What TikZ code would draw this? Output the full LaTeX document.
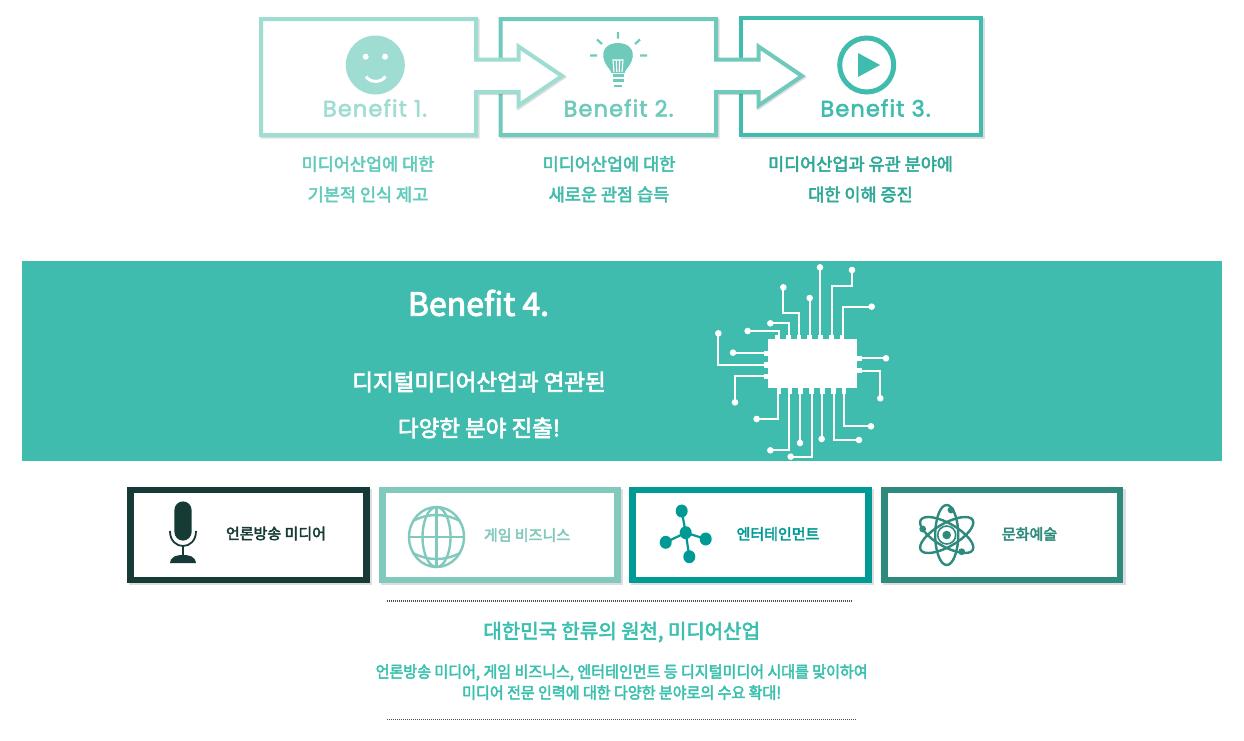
\documentclass[tikz,border=0pt]{standalone}
\usepackage{fontspec}
\setmainfont{Noto Sans CJK KR}
\newfontfamily\krm{Noto Sans CJK KR}[FakeBold=3]
\newfontfamily\krn{Noto Sans CJK KR}[FakeBold=3,FakeStretch=0.94]
\newfontfamily\pop{Poppins}[LetterSpace=5,FakeBold=2.5]
\definecolor{cA}{HTML}{9FDDD3}
\definecolor{cB}{HTML}{6FCABB}
\definecolor{cC}{HTML}{3FBCAD}
\definecolor{tA}{HTML}{62CBBB}
\definecolor{tB}{HTML}{45BCAB}
\definecolor{tC}{HTML}{2FA996}
\definecolor{dA}{HTML}{163A35}
\definecolor{dB}{HTML}{82C9BD}
\definecolor{dC}{HTML}{009A96}
\definecolor{dD}{HTML}{2E8A7C}
\definecolor{hd}{HTML}{3CC0AE}
\tikzset{
  x=1pt,y=-1pt,
  txt/.style={inner sep=0pt,align=center,font=\krm},
  sz/.style={font=\krm\fontsize{#1}{#1}\selectfont},
  szn/.style={font=\krn\fontsize{#1}{#1}\selectfont},
  ben/.style={inner sep=0pt,font=\pop\fontsize{22.5}{22.5}\selectfont},
  shad/.style={draw=black,draw opacity=0.13,line width=#1,line join=miter},
  catbox/.style={draw=#1,line width=6.5pt,fill=white,line join=miter},
  trace/.style={draw=white,line width=1.9pt,line join=miter},
  dotline/.style={draw=black!70,line width=1.2pt,dash pattern=on 1.1pt off 0.9pt},
}
\begin{document}
\begin{tikzpicture}
\useasboundingbox (0,0) rectangle (1244,740);
% Benefit 3 box
\draw[shad=4.5pt] (742.8,19.8) rectangle (982.8,136.8);
\draw[draw=cC,line width=4.5pt,fill=white] (741.2,18.2) rectangle (981.2,135.2);
% Benefit 2 shape
\path[shad=4pt] (502,20.5) -- (717.5,20.5) -- (717.5,60.5) -- (759.5,60.5) -- (759.5,47.5) -- (803.5,77) -- (759.5,107) -- (759.5,93) -- (717.5,93) -- (717.5,136.5) -- (502,136.5) -- cycle;
\path[draw=cB,line width=4pt,fill=white,line join=miter] (500.5,19) -- (716,19) -- (716,59.5) -- (758.5,59.5) -- (758.5,46.5) -- (802,76) -- (758.5,105.5) -- (758.5,92) -- (716,92) -- (716,135) -- (500.5,135) -- cycle;
% Benefit 1 shape
\path[shad=4pt] (262.5,20.5) -- (477.5,20.5) -- (477.5,60.5) -- (519.5,60.5) -- (519.5,47.5) -- (563.5,77) -- (519.5,107) -- (519.5,93) -- (477.5,93) -- (477.5,136.5) -- (262.5,136.5) -- cycle;
\path[draw=cA,line width=4pt,fill=white,line join=miter] (261,19) -- (476,19) -- (476,59.5) -- (518.5,59.5) -- (518.5,46.5) -- (562,76) -- (518.5,105.5) -- (518.5,92) -- (476,92) -- (476,135) -- (261,135) -- cycle;
% smiley
\fill[cA] (375.3,65) circle[radius=29.5pt];
\fill[white] (365.7,56.7) circle[radius=3pt] (385,56.7) circle[radius=3pt];
\draw[white,line width=3pt] (366,76.5) .. controls (370,83) and (381,83) .. (385.5,76.5);
% bulb
\fill[cB] (607,66) .. controls (598,52) and (606,43) .. (618,43) .. controls (630,43) and (638,52) .. (629,66) .. controls (627,69) and (625,70) .. (624.5,73) -- (611.5,73) .. controls (611,70) and (609,69) .. (607,66) -- cycle;
\draw[white,line width=1.1pt] (614,72) -- (613,60) -- (623,60) -- (622,72) (616.8,72) -- (616.3,60) (619.2,72) -- (619.7,60);
\draw[cB,line width=2.4pt] (612.5,75.5) -- (623.5,75.5) (612.5,80.5) -- (623.5,80.5) (614,86) -- (622,86);
\draw[cB,line width=2.2pt] (618,32) -- (618,38.5) (597,39.5) -- (602,44) (590,55.5) -- (597,55.5) (640,39.5) -- (635,44) (640,55.5) -- (647,55.5);
% play
\draw[cC,line width=5pt] (866.7,65) circle[radius=27pt];
\fill[cC] (858,53) -- (880,65) -- (858,77) -- cycle;
% Benefit labels
\node[ben,text=cA] (b1) at (375,108) {Benefit 1.};
\node[ben,text=cB] (b2) at (618.5,108) {Benefit 2.};
\node[ben,text=cC] (b3) at (875.5,108) {Benefit 3.};
\node[txt,sz=17.5,text=tA] (l1a) at (368,164) {미디어산업에 대한};
\node[txt,sz=17.5,text=tA] (l1b) at (368,194.5) {기본적 인식 제고};
\node[txt,sz=17.5,text=tB] (l2a) at (609,164) {미디어산업에 대한};
\node[txt,sz=17.5,text=tB] (l2b) at (609,194.5) {새로운 관점 습득};
\node[txt,sz=17.5,text=tC] (l3a) at (860.5,164) {미디어산업과 유관 분야에};
\node[txt,sz=17.5,text=tC] (l3b) at (860.5,194.5) {대한 이해 증진};
% banner
\fill[cC] (22,261) rectangle (1222,461);
\node[txt,sz=32,text=white] (b4) at (478.5,303) {Benefit 4.};
\node[txt,sz=22.5,text=white] (b4a) at (479,382) {디지털미디어산업과 연관된};
\node[txt,sz=22.5,text=white] (b4b) at (479,428) {다양한 분야 진출!};
% chip
\begin{scope}[shift={(700pt,-260pt)},x=0.3333pt,y=-0.3333pt]
\fill[white] (205,238) rectangle (472,385);
\foreach \x in {232,265,297,329,362,394,426} \fill[white] (\x-7,224) rectangle (\x+7,238);
\foreach \x in {237,270,302,334,367,400,432} \fill[white] (\x-7,385) rectangle (\x+7,401);
\foreach \y in {280,315,350} \fill[white] (191,\y-8) rectangle (205,\y+8);
\foreach \y in {296,332} \fill[white] (472,\y-8) rectangle (486,\y+8);
\draw[trace] (236,225) -- (236,212) -- (143,212);
\draw[trace] (266,225) -- (266,189) -- (211,189);
\draw[trace] (298,225) -- (298,160) -- (250,160) -- (250,82);
\draw[trace] (330,225) -- (330,114);
\draw[trace] (360,225) -- (360,22);
\draw[trace] (396,225) -- (396,77) -- (456,77) -- (456,30);
\draw[trace] (430,225) -- (430,140) -- (515,140);
\draw[trace] (191,278) -- (99,278);
\draw[trace] (191,316) -- (55,316) -- (55,220);
\draw[trace] (191,349) -- (105,349) -- (105,427);
\draw[trace] (486,295) -- (558,295);
\draw[trace] (486,332) -- (541,332) -- (541,415);
\draw[trace] (235,400) -- (235,477) -- (170,477);
\draw[trace] (267,400) -- (267,571) -- (211,571);
\draw[trace] (300,400) -- (300,549);
\draw[trace] (335,400) -- (335,590) -- (272,590);
\draw[trace] (365,400) -- (365,537);
\draw[trace] (402,400) -- (402,540) -- (477,540);
\draw[trace] (431,400) -- (431,499) -- (513,499);
\foreach \p in {(143,213),(211,190),(250,82),(329,114),(360,22),(456,30),(515,140),(99,278),(55,220),(105,427),(558,295),(541,415),(170,477),(211,571),(300,549),(272,590),(365,537),(477,540),(513,499)}
  \fill[white] \p circle[radius=3.3pt];
\end{scope}
% category boxes
\foreach \a/\b/\c in {130.5/366.7/dA,382.5/617.7/dB,632.5/868.4/dC,884.3/1120/dD}{
  \draw[shad=6.5pt] (\a+2,492) rectangle (\b+2.5,582);
  \draw[catbox=\c] (\a,490) rectangle (\b,580);
}
% mic
\fill[dA] (174.4,510) arc[start angle=180,end angle=0,radius=8.6pt] -- (191.6,532) arc[start angle=0,end angle=-180,radius=8.6pt] -- cycle;
\draw[dA,line width=1.8pt] (170,531) .. controls (170,551) and (196,551) .. (196,531);
\draw[dA,line width=2pt] (183,546) -- (183,557);
\fill[dA] (170,563) .. controls (171,556) and (177,555) .. (183,555) .. controls (189,555) and (195,556) .. (196,563) -- cycle;
\node[txt,sz=15,text=dA] (c1) at (276,533.5) {언론방송 미디어};
% globe
\begin{scope}[dB,line width=2.4pt]
\draw (436.5,537) ellipse[x radius=27.5pt,y radius=30pt];
\draw (436.5,537) ellipse[x radius=14pt,y radius=30pt];
\draw (436.5,507) -- (436.5,567) (409,537) -- (464,537);
\draw (413,521) .. controls (428,513) and (445,513) .. (460,521);
\draw (413,553) .. controls (428,561) and (445,561) .. (460,553);
\end{scope}
\node[txt,sz=15,text=dB] (c2) at (527,535) {게임 비즈니스};
% network
\begin{scope}[dC]
\draw[line width=2.2pt] (685.7,532.7) -- (681.7,511) (685.7,532.7) -- (705.7,539) (685.7,532.7) -- (689.3,556.7) (685.7,532.7) -- (665.7,542.3);
\fill (685.7,532.7) ellipse[x radius=6pt,y radius=6.5pt];
\fill (681.7,511) ellipse[x radius=6pt,y radius=6.5pt];
\fill (705.7,539) ellipse[x radius=6pt,y radius=6.5pt];
\fill (689.3,556.7) ellipse[x radius=6pt,y radius=6.5pt];
\fill (665.7,542.3) ellipse[x radius=6pt,y radius=6.5pt];
\end{scope}
\node[txt,sz=15,text=dC] (c3) at (778,534) {엔터테인먼트};
% atom
\begin{scope}[dD,line width=2.4pt]
\draw (946.7,535) ellipse[x radius=11.5pt,y radius=30pt];
\draw[rotate around={60:(946.7,535)}] (946.7,535) ellipse[x radius=11.5pt,y radius=30pt];
\draw[rotate around={-60:(946.7,535)}] (946.7,535) ellipse[x radius=11.5pt,y radius=30pt];
\draw[line width=1.6pt] (946.7,535) circle[radius=9pt];
\fill (946.7,535) circle[radius=4.3pt];
\fill (951,510) circle[radius=3.4pt] (922.7,529) circle[radius=3.4pt] (961.7,551.7) circle[radius=3.4pt];
\end{scope}
\node[txt,sz=15,text=dD] (c4) at (1029.5,534) {문화예술};
% bottom
\draw[dotline] (387,601) -- (852,601);
\draw[dotline] (387,719.5) -- (856,719.5);
\node[txt,sz=20,text=hd] (h) at (621.7,632) {대한민국 한류의 원천, 미디어산업};
\node[txt,szn=16,text=hd] (t1) at (621.7,672.5) {언론방송 미디어, 게임 비즈니스, 엔터테인먼트 등 디지털미디어 시대를 맞이하여};
\node[txt,szn=16,text=hd] (t2) at (621.7,692.5) {미디어 전문 인력에 대한 다양한 분야로의 수요 확대!};
\end{tikzpicture}
\end{document}
